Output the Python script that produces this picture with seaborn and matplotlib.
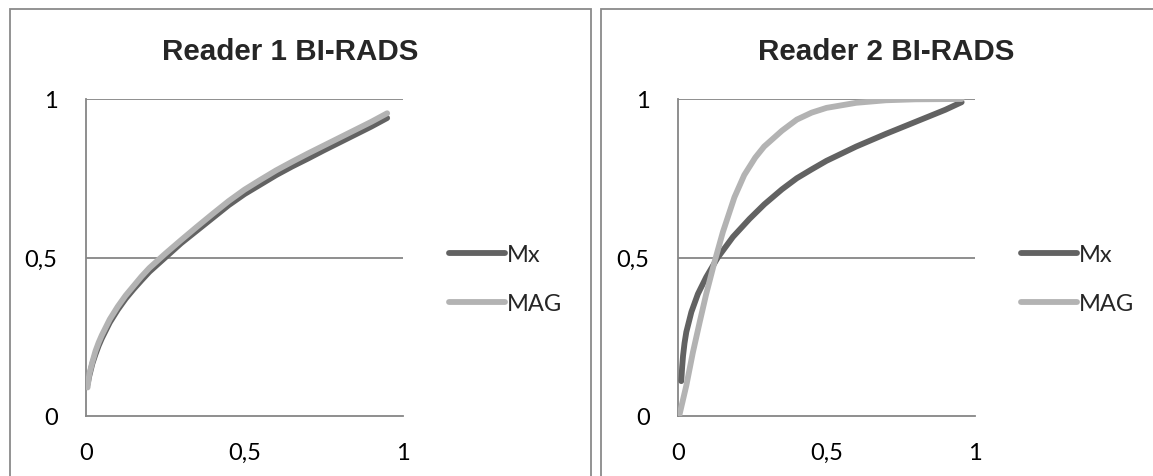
import matplotlib
matplotlib.use("Agg")
import matplotlib.pyplot as plt
from matplotlib.patches import Rectangle
from matplotlib.lines import Line2D
import seaborn as sns
import pandas as pd

# ---- data ----
r1_mx_x = [0.005, 0.01, 0.02, 0.03, 0.04, 0.05, 0.075, 0.1, 0.125, 0.15, 0.175, 0.2, 0.25,
           0.3, 0.35, 0.4, 0.45, 0.5, 0.55, 0.6, 0.65, 0.7, 0.75, 0.8, 0.85, 0.9, 0.95]
r1_mx_y = [0.10, 0.125, 0.165, 0.195, 0.222, 0.245, 0.295, 0.335, 0.37, 0.40, 0.428, 0.455, 0.50,
           0.545, 0.585, 0.625, 0.665, 0.70, 0.73, 0.76, 0.787, 0.812, 0.838, 0.863, 0.888, 0.913, 0.94]
r1_mag_x = [0.005, 0.01, 0.02, 0.03, 0.04, 0.05, 0.075, 0.1, 0.125, 0.15, 0.175, 0.2, 0.25,
            0.3, 0.35, 0.4, 0.45, 0.5, 0.55, 0.6, 0.65, 0.7, 0.75, 0.8, 0.85, 0.9, 0.95]
r1_mag_y = [0.09, 0.13, 0.17, 0.205, 0.232, 0.255, 0.305, 0.345, 0.38, 0.41, 0.44, 0.467, 0.512,
            0.555, 0.597, 0.638, 0.678, 0.714, 0.745, 0.775, 0.802, 0.828, 0.853, 0.878, 0.903, 0.928, 0.955]

r2_mx_x = [0.011, 0.014, 0.017, 0.022, 0.028, 0.045, 0.067, 0.095, 0.134, 0.185, 0.241, 0.291,
           0.35, 0.4, 0.45, 0.5, 0.6, 0.7, 0.8, 0.9, 0.955]
r2_mx_y = [0.11, 0.155, 0.19, 0.23, 0.265, 0.328, 0.385, 0.438, 0.50, 0.565, 0.622, 0.668,
           0.715, 0.75, 0.778, 0.805, 0.85, 0.89, 0.928, 0.966, 0.99]
r2_mag_x = [0.004, 0.028, 0.05, 0.073, 0.095, 0.123, 0.151, 0.19, 0.223, 0.26, 0.29, 0.35, 0.4,
            0.45, 0.5, 0.6, 0.7, 0.8, 0.955]
r2_mag_y = [0.0, 0.096, 0.20, 0.296, 0.385, 0.486, 0.58, 0.69, 0.76, 0.815, 0.85, 0.90, 0.935,
            0.957, 0.972, 0.988, 0.996, 0.999, 1.0]

series_names = ["Mx", "MAG"]
titles = ["Reader 1 BI-RADS", "Reader 2 BI-RADS"]
tick_vals = [0, 0.5, 1]
tick_labels = ["0", "0,5", "1"]

sns.set_style("white")
plt.rcParams["font.family"] = ["Lato", "DejaVu Sans"]

W, H = 1153, 477
fig = plt.figure(figsize=(W / 100, H / 100), dpi=100)

def fx(px):
    return px / W

def fy(py):
    return (H - py) / H

palette = {"Mx": "#626262", "MAG": "#b3b3b3"}
border_col = "#8a8a8a"
axis_col = "#868686"

# panel borders
fig.patches.append(Rectangle((fx(10), -0.1), fx(591) - fx(10), fy(10) + 0.1,
                             transform=fig.transFigure, fill=False,
                             edgecolor=border_col, lw=1.3))
fig.patches.append(Rectangle((fx(601), -0.1), 1.0, fy(10) + 0.1,
                             transform=fig.transFigure, fill=False,
                             edgecolor=border_col, lw=1.3))

panels = [
    dict(xs=(r1_mx_x, r1_mag_x), ys=(r1_mx_y, r1_mag_y), left=86, right=403,
         title_x=290, leg_x=449),
    dict(xs=(r2_mx_x, r2_mag_x), ys=(r2_mx_y, r2_mag_y), left=678, right=975,
         title_x=886, leg_x=1021),
]

for i, p in enumerate(panels):
    ax = fig.add_axes([fx(p["left"]), fy(417), fx(p["right"]) - fx(p["left"]), fy(100) - fy(417)])
    frames = []
    for name, xs, ys in zip(series_names, p["xs"], p["ys"]):
        frames.append(pd.DataFrame({"x": xs, "y": ys, "series": name}))
    df = pd.concat(frames, ignore_index=True)
    sns.lineplot(data=df, x="x", y="y", hue="series", hue_order=series_names,
                 palette=palette, lw=4.2, ax=ax, legend=False, sort=False,
                 solid_capstyle="round", solid_joinstyle="round")
    ax.set_xlim(0, 1)
    ax.set_ylim(0, 1)
    ax.set_xlabel("")
    ax.set_ylabel("")
    ax.set_xticks(tick_vals)
    ax.set_xticklabels(tick_labels)
    ax.set_yticks(tick_vals)
    ax.set_yticklabels(tick_labels)
    for s in ["top", "right"]:
        ax.spines[s].set_visible(False)
    for s in ["left", "bottom"]:
        ax.spines[s].set_color(axis_col)
        ax.spines[s].set_linewidth(1.3)
    ax.tick_params(axis="both", direction="out", length=6.5, width=1.3,
                   color=axis_col, labelsize=17, labelcolor="black")
    ax.tick_params(axis="x", pad=12)
    ax.tick_params(axis="y", pad=14)
    ax.set_axisbelow(True)
    for yv in [0.5, 1.0]:
        ax.axhline(yv, color=axis_col, lw=1.3, zorder=0)
    for ln in ax.lines[:2]:
        ln.set_zorder(3)

    fig.text(fx(p["title_x"]), fy(52), titles[i], ha="center", va="center",
             fontsize=21.3, fontweight="bold", family=["Liberation Sans", "DejaVu Sans"])

    handles = [Line2D([], [], color=palette[n], lw=4.2) for n in series_names]
    ax.legend(handles, series_names, loc="upper left",
              bbox_to_anchor=(fx(p["leg_x"]), fy(245)), bbox_transform=fig.transFigure,
              frameon=False, borderpad=0, borderaxespad=0, handlelength=2.37,
              handletextpad=0.08, labelspacing=1.2, fontsize=17)

fig.savefig("out.png", dpi=100, facecolor="white")
